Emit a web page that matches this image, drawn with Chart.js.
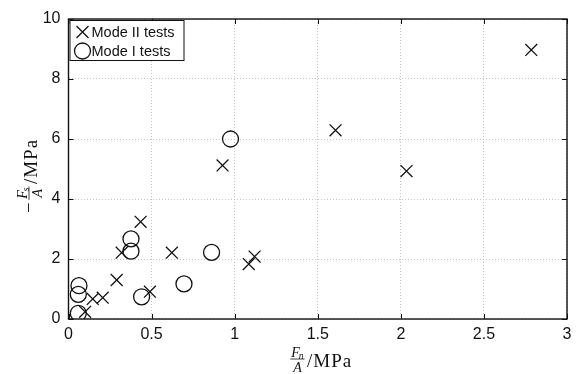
<!DOCTYPE html>
<html>
<head>
<meta charset="utf-8">
<script src="https://cdn.jsdelivr.net/npm/chart.js@4"></script>
<style>
  html, body { margin: 0; padding: 0; background: #fff; }
  #wrap { width: 581px; height: 374px; }
</style>
</head>
<body>
<div id="wrap"><canvas id="plot" width="581" height="374"></canvas></div>
<script>
// Mode II tests (crosses)
var mode2X = [0.10, 0.146, 0.206, 0.29, 0.32, 0.434, 0.49, 0.622, 0.927, 1.085, 1.12, 1.607, 2.034, 2.785];
var mode2Y = [0.24, 0.67, 0.71, 1.30, 2.21, 3.24, 0.91, 2.21, 5.12, 1.83, 2.08, 6.29, 4.93, 8.97];
// Mode I tests (circles)
var mode1X = [0.059, 0.059, 0.063, 0.376, 0.376, 0.44, 0.695, 0.861, 0.975];
var mode1Y = [0.19, 0.82, 1.11, 2.26, 2.67, 0.74, 1.17, 2.22, 6.00];

var xTicks = [0, 0.5, 1, 1.5, 2, 2.5, 3];
var yTicks = [0, 2, 4, 6, 8, 10];
var seriesNames = ["Mode II tests", "Mode I tests"];

function pts(xs, ys) {
  return xs.map(function (x, i) { return { x: x, y: ys[i] }; });
}

var ink = "#111";
var sans = '"Liberation Sans", Arial, sans-serif';
var serif = '"Liberation Serif", "DejaVu Serif", serif';

// draws  [-] F_sub / A  /MPa  with (0,0) on the fraction bar, centered
function mathTitle(ctx, sub, minus) {
  var big = '19px ' + serif, it = 'italic 14px ' + serif, sm = 'italic 9.5px ' + serif;
  ctx.font = big;
  ctx.letterSpacing = "0px";
  var wm = minus ? ctx.measureText("\u2212").width + 2 : 0;
  ctx.letterSpacing = "1px";
  var wu = ctx.measureText("/MPa").width;
  ctx.letterSpacing = "0px";
  ctx.font = it; var wF = ctx.measureText("F").width, wA = ctx.measureText("A").width;
  ctx.font = sm; var ws = ctx.measureText(sub).width;
  var wn = wF + ws - 1, wf = Math.max(wn, wA) + 3;
  var total = wm + wf + 2 + wu;
  var x = -total / 2;
  ctx.fillStyle = ink; ctx.strokeStyle = ink; ctx.textBaseline = "alphabetic"; ctx.textAlign = "left";
  if (minus) { ctx.font = big; ctx.fillText("\u2212", x, 6); x += wm; }
  ctx.lineWidth = 0.8;
  ctx.beginPath(); ctx.moveTo(x + 0.5, 0); ctx.lineTo(x + wf - 0.5, 0); ctx.stroke();
  var nx = x + (wf - wn) / 2;
  ctx.font = it; ctx.fillText("F", nx, -2.5);
  ctx.font = sm; ctx.fillText(sub, nx + wF - 1, -0.5);
  ctx.font = it; ctx.fillText("A", x + (wf - wA) / 2, 12.5);
  x += wf + 2;
  ctx.font = big; ctx.letterSpacing = "1px";
  ctx.fillText("/MPa", x, 8);
  ctx.letterSpacing = "0px";
}

var framePlugin = {
  id: "frame",
  afterDraw: function (chart) {
    var ctx = chart.ctx, a = chart.chartArea;
    var xs = chart.scales.x, ys = chart.scales.y;
    ctx.save();
    ctx.strokeStyle = ink; ctx.lineWidth = 1.4;
    ctx.strokeRect(a.left, a.top, a.right - a.left, a.bottom - a.top);
    ctx.lineWidth = 1;
    ctx.beginPath();
    xTicks.forEach(function (v) {
      var p = Math.round(xs.getPixelForValue(v)) + 0.5;
      ctx.moveTo(p, a.bottom); ctx.lineTo(p, a.bottom - 5);
      ctx.moveTo(p, a.top); ctx.lineTo(p, a.top + 5);
    });
    yTicks.forEach(function (v) {
      var p = Math.round(ys.getPixelForValue(v)) + 0.5;
      ctx.moveTo(a.left, p); ctx.lineTo(a.left + 5, p);
      ctx.moveTo(a.right, p); ctx.lineTo(a.right - 5, p);
    });
    ctx.stroke();

    // legend box
    var lx = a.left + 1, ly = a.top + 1, lw = 114, lh = 40;
    ctx.fillStyle = "#fff"; ctx.fillRect(lx, ly, lw, lh);
    ctx.lineWidth = 1; ctx.strokeStyle = ink;
    ctx.strokeRect(lx + 0.5, ly + 0.5, lw, lh);
    ctx.font = '14.5px ' + sans; ctx.fillStyle = ink; ctx.textBaseline = "middle"; ctx.textAlign = "left";
    ctx.lineWidth = 1.3;
    var r1 = ly + 12, r2 = ly + 31, mx = lx + 13;
    ctx.beginPath();
    ctx.moveTo(mx - 6, r1 - 6); ctx.lineTo(mx + 6, r1 + 6);
    ctx.moveTo(mx + 6, r1 - 6); ctx.lineTo(mx - 6, r1 + 6);
    ctx.stroke();
    ctx.beginPath(); ctx.arc(mx, r2, 8, 0, Math.PI * 2); ctx.stroke();
    ctx.fillText(seriesNames[0], lx + 22, r1 + 1);
    ctx.fillText(seriesNames[1], lx + 22, r2 + 1);

    // axis titles
    ctx.save();
    ctx.translate(321, 359);
    mathTitle(ctx, "n", false);
    ctx.restore();
    ctx.save();
    ctx.translate(29, 176);
    ctx.rotate(-Math.PI / 2);
    mathTitle(ctx, "s", true);
    ctx.restore();
    ctx.restore();
  }
};

Chart.defaults.font.family = sans;
Chart.defaults.font.size = 16;
Chart.defaults.color = ink;

new Chart(document.getElementById("plot"), {
  type: "scatter",
  data: {
    datasets: [
      {
        label: seriesNames[0],
        data: pts(mode2X, mode2Y),
        pointStyle: "crossRot",
        radius: 8.4,
        borderColor: ink,
        borderWidth: 1.3,
        backgroundColor: "rgba(0,0,0,0)"
      },
      {
        label: seriesNames[1],
        data: pts(mode1X, mode1Y),
        pointStyle: "circle",
        radius: 8,
        borderColor: ink,
        borderWidth: 1.3,
        backgroundColor: "rgba(0,0,0,0)"
      }
    ]
  },
  options: {
    responsive: false,
    animation: false,
    layout: { padding: { top: 19, right: 14, left: 0, bottom: 0 } },
    plugins: { legend: { display: false }, tooltip: { enabled: false } },
    scales: {
      x: {
        type: "linear", min: 0, max: 3,
        afterBuildTicks: function (s) { s.ticks = xTicks.map(function (v) { return { value: v }; }); },
        afterFit: function (s) { s.height = 55; },
        ticks: { padding: 6, maxRotation: 0, callback: function (v) { return String(v); } },
        grid: { drawTicks: false, color: "#c4c4c4", lineWidth: 1 },
        border: { display: false, dash: [1, 2] }
      },
      y: {
        type: "linear", min: 0, max: 10,
        afterBuildTicks: function (s) { s.ticks = yTicks.map(function (v) { return { value: v }; }); },
        afterFit: function (s) { s.width = 68.5; },
        ticks: { padding: 8, callback: function (v) { return String(v); } },
        grid: { drawTicks: false, color: "#c4c4c4", lineWidth: 1 },
        border: { display: false, dash: [1, 2] }
      }
    }
  },
  plugins: [framePlugin]
});
</script>
</body>
</html>
